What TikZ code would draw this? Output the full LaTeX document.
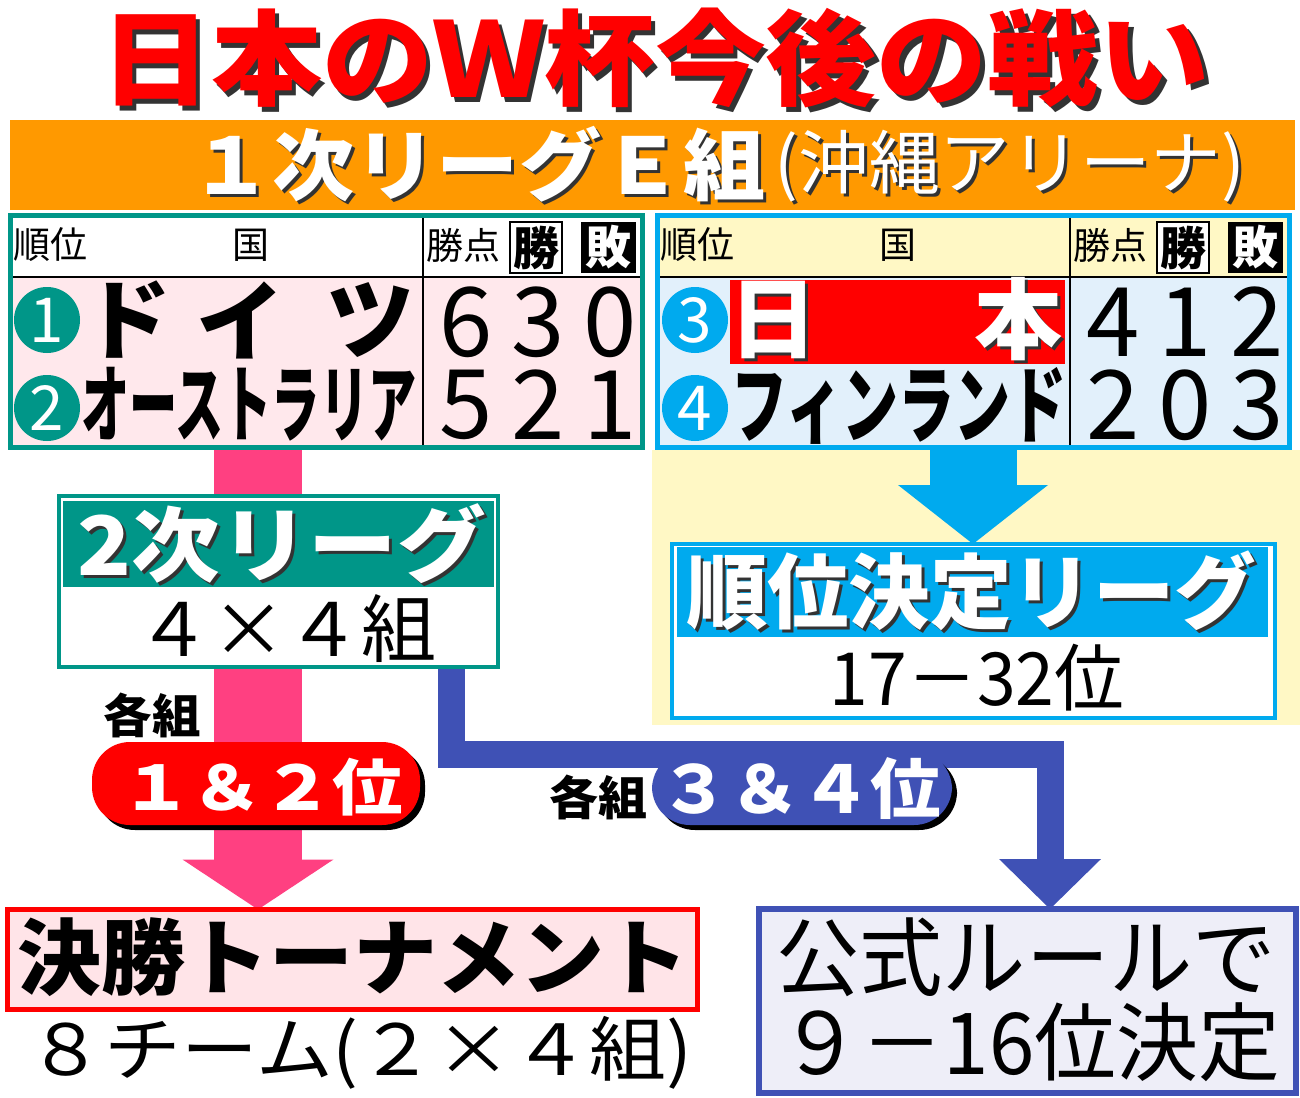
\documentclass[tikz,border=0pt]{standalone}
\usepackage{fontspec}
\usepackage{graphicx}
\usetikzlibrary{arrows.meta,backgrounds,shadows}
\newfontfamily\jp{Noto Sans CJK JP}
\definecolor{egreen}{HTML}{009688}
\definecolor{eblue}{HTML}{00AAEE}
\definecolor{ebar}{HTML}{FF9900}
\definecolor{pinkbg}{HTML}{FFE8EC}
\definecolor{hdyellow}{HTML}{FFF8C5}
\definecolor{bdblue}{HTML}{E2F0FB}
\definecolor{pinkarr}{HTML}{FF4081}
\definecolor{indigo}{HTML}{3F51B5}
\definecolor{finalbg}{HTML}{FFE4E8}
\definecolor{rulebg}{HTML}{EEEEF8}
\newcommand\fitbox[3]{\resizebox*{#1pt}{#2pt}{#3}}
\newcommand\dropsh[3][3pt]{\makebox[0pt][l]{\hspace*{#1}\raisebox{-#1}{\color{black!80}#3}}{\color{#2}#3}}
\newcommand\fs[1]{\fontsize{#1}{#1}\selectfont}

\begin{document}
\begin{tikzpicture}[x=1pt,y=-1pt,every node/.style={inner sep=0pt,outer sep=0pt},
  tabframe/.style={draw=#1,line width=5pt,minimum width=632,minimum height=232},
  numcirc/.style={circle,fill=#1,minimum size=66,text=white,font=\jp\fs{62}},
  digit/.style={font=\jp\fs{96}},
  hdtext/.style={font=\jp\fs{37}},
  pill/.style={fill=#1,rounded corners=38pt,drop shadow={shadow xshift=5pt,shadow yshift=-5pt,opacity=1,fill=black}},
  blockarr/.style={line width=#1,line join=miter}]
\useasboundingbox (0,0) rectangle (1300,1097);

\node (title) at (655,60) {\dropsh[5pt]{red}{\fitbox{1110}{100}{\jp\bfseries 日本のＷ杯今後の戦い}}};

\fill[ebar] (10,120) rectangle (1295,210);
\node (bar) at (478,166) {\dropsh{white}{\fitbox{575}{76}{\jp\bfseries １次リーグＥ組}}};
\node (venue) at (1010,168) {\dropsh{white}{\fitbox{470}{72}{\jp (沖縄アリーナ)}}};

\foreach \dx/\fr/\hd/\bd/\nm in {0/egreen/white/pinkbg/L,647/eblue/hdyellow/bdblue/R} {
\begin{scope}[xshift=\dx]
\fill[\hd] (8,213) rectangle (645,277);
\fill[\bd] (8,277) rectangle (645,450);
\draw[line width=2pt] (8,277) -- (645,277) (423,213) -- (423,450);
\node[tabframe=\fr] (tab\nm) at (326.5,331.5) {};
\node[hdtext] (rank\nm) at (50,245) {順位};
\node[hdtext] (nat\nm) at (251,245) {国};
\node[hdtext] (pts\nm) at (463,245) {勝点};
\node[draw,line width=2pt,fill=white,minimum width=52,minimum height=51,font=\jp\bfseries\fs{46}] (win\nm) at (536,247.5) {勝};
\node[fill=black,minimum width=55,minimum height=51,text=white,font=\jp\bfseries\fs{46}] (loss\nm) at (608.5,247.5) {敗};
\end{scope}
}

\node[numcirc=egreen] (n1) at (47,320) {1};
\node[numcirc=egreen] (n2) at (47,408) {2};
\foreach \c/\x in {ド/127,イ/240,ツ/370} \node[font=\jp\bfseries\fs{88}] (de\x) at (\x,320) {\c};
\node (aus) at (249,404) {\fitbox{335}{74}{\jp\bfseries オーストラリア}};
\foreach \d [count=\i] in {6,3,0} \node[digit] (ga\i) at ({394+72*\i},322) {\d};
\foreach \d [count=\i] in {5,2,1} \node[digit] (gb\i) at ({394+72*\i},405) {\d};

\node[numcirc=eblue] (n3) at (695,320) {3};
\node[numcirc=eblue] (n4) at (695,408) {4};
\node[fill=red,minimum width=335,minimum height=84] (jpn) at (897.5,322) {};
\node (jpn1) at (773,321) {\dropsh{white}{\jp\bfseries\fs{88}日}};
\node (jpn2) at (1018,321) {\dropsh{white}{\jp\bfseries\fs{88}本}};
\node (fin) at (899,406) {\fitbox{335}{77}{\jp\bfseries フィンランド}};
\foreach \d [count=\i] in {4,1,2} \node[digit] (gc\i) at ({1041+72*\i},322) {\d};
\foreach \d [count=\i] in {2,0,3} \node[digit] (gd\i) at ({1041+72*\i},405) {\d};

\node[draw=egreen,line width=4pt,fill=white,minimum width=439,minimum height=171] (league2) at (278.5,581.5) {};
\node[fill=egreen,minimum width=431,minimum height=86] (l2band) at (278.5,544) {};
\node (l2txt) at (282,545) {\dropsh{white}{\fitbox{408}{80}{\jp\bfseries 2次リーグ}}};
\node (l2num) at (286,629) {\fitbox{300}{68}{\jp ４×４組}};

\node[draw=eblue,line width=4pt,fill=white,minimum width=603,minimum height=174] (rank) at (973.5,631) {};
\node[fill=eblue,minimum width=591,minimum height=90] (rankband) at (972.5,592) {};
\node (ranktxt) at (971,592) {\dropsh{white}{\fitbox{570}{80}{\jp\bfseries 順位決定リーグ}}};
\node (ranknum) at (977,678) {\fitbox{294}{67}{\jp 17－32位}};

\node (each1) at (152,715) {\fitbox{97}{45}{\jp\bfseries 各組}};
\node[pill=red,minimum width=328,minimum height=83] (top12) at (256,783.5) {};
\node (top12txt) at (262,787) {\fitbox{282}{58}{\color{white}\jp\bfseries １＆２位}};
\node (each2) at (598,797) {\fitbox{98}{45}{\jp\bfseries 各組}};
\node[pill=indigo,minimum width=300,minimum height=74] (top34) at (802,788) {};
\node (top34txt) at (800,789) {\fitbox{282}{62}{\color{white}\jp\bfseries ３＆４位}};

\node[draw=red,line width=5pt,fill=finalbg,minimum width=690,minimum height=100] (final) at (352.5,959.5) {};
\node (finaltxt) at (353,957) {\fitbox{672}{79}{\jp\bfseries 決勝トーナメント}};
\node (finalnum) at (360,1053) {\fitbox{664}{73}{\jp ８チーム(２×４組)}};

\node[draw=indigo,line width=6pt,fill=rulebg,minimum width=537,minimum height=184] (rule) at (1027,1001) {};
\node (rule1) at (1026,957) {\fitbox{500}{79}{\jp 公式ルールで}};
\node (rule2) at (1030,1042) {\fitbox{500}{79}{\jp ９－16位決定}};

\coordinate (p0) at (258,450);
\coordinate (b0) at (973,450);
\coordinate (c1) at (451,754);
\coordinate (c2) at (1050,754);
\begin{pgfonlayer}{background}
\fill[hdyellow] (652,450) rectangle (1300,725);
\draw[pinkarr,blockarr=88pt,-{Triangle[width=151pt,length=50pt,line width=0pt]}] (p0) -- (p0 |- final.north);
\draw[eblue,blockarr=87pt,-{Triangle[width=150pt,length=59pt,line width=0pt]}] (b0) -- (b0 |- rank.north);
\draw[indigo,blockarr=27pt,-{Triangle[width=102pt,length=50pt,line width=0pt]}] (league2.south -| c1) -- (c1) -- (c2) -- (c2 |- rule.north);
\end{pgfonlayer}
\end{tikzpicture}
\end{document}
